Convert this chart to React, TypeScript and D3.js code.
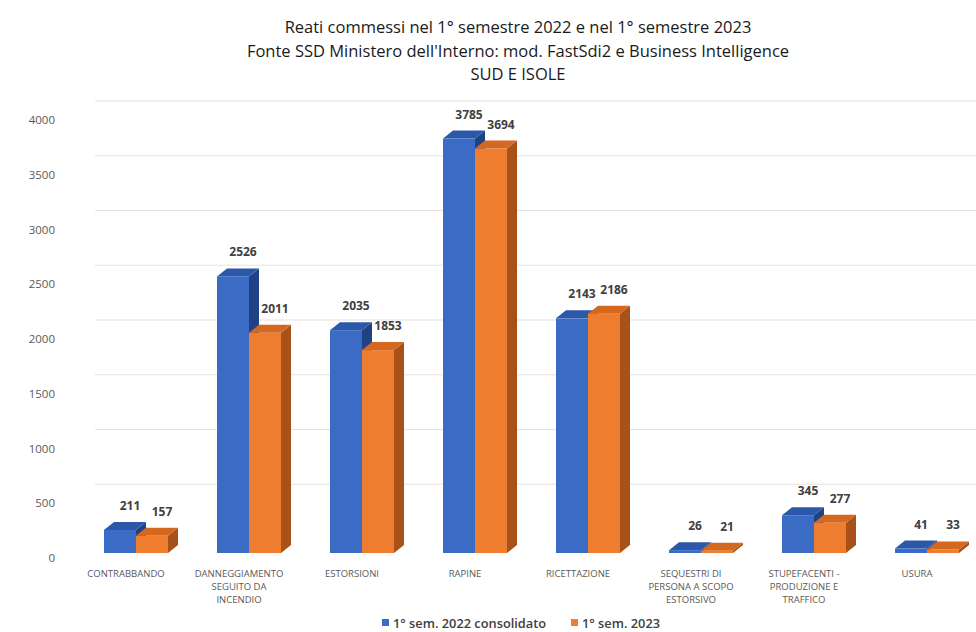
import { useRef, useEffect } from 'react';
import * as d3 from 'd3';

const titleLines = [
  'Reati commessi nel 1° semestre 2022 e nel 1° semestre 2023',
  "Fonte SSD Ministero dell'Interno: mod. FastSdi2 e Business Intelligence",
  'SUD E ISOLE',
];

const categories = [
  ['CONTRABBANDO'],
  ['DANNEGGIAMENTO', 'SEGUITO DA', 'INCENDIO'],
  ['ESTORSIONI'],
  ['RAPINE'],
  ['RICETTAZIONE'],
  ['SEQUESTRI DI', 'PERSONA A SCOPO', 'ESTORSIVO'],
  ['STUPEFACENTI -', 'PRODUZIONE E', 'TRAFFICO'],
  ['USURA'],
];

const sem2022 = [211, 2526, 2035, 3785, 2143, 26, 345, 41];
const sem2023 = [157, 2011, 1853, 3694, 2186, 21, 277, 33];

const seriesNames = ['1° sem. 2022 consolidato', '1° sem. 2023'];
const yTicks = [0, 500, 1000, 1500, 2000, 2500, 3000, 3500, 4000];

const W = 976;
const H = 632;

export default function App() {
  const svgRef = useRef<SVGSVGElement>(null);

  useEffect(() => {
    if (!svgRef.current) return;
    const svg = d3.select(svgRef.current);
    svg.selectAll('*').remove();

    const base = 553;
    const depthX = 10;
    const depthY = -8;
    const barW = 32;

    const keys = categories.map((c) => c.join(' '));
    const x = d3.scaleBand().domain(keys).range([69.5, 973.5]).padding(0);
    const y = d3.scaleLinear().domain([0, 4000]).range([base, base - 438]);

    svg.append('rect').attr('width', W).attr('height', H).attr('fill', '#ffffff');

    // Title
    svg.append('g')
      .selectAll('text')
      .data(titleLines)
      .enter()
      .append('text')
      .attr('x', 518)
      .attr('y', (_, i) => 33 + i * 23.5)
      .attr('text-anchor', 'middle')
      .style('font-family', '"Liberation Sans Narrow", "Open Sans", sans-serif')
      .style('font-size', '16.5px')
      .style('fill', '#1a1a1a')
      .text((d) => d);

    // Back wall grid lines
    svg.append('g')
      .selectAll('line')
      .data(yTicks.slice(1))
      .enter()
      .append('line')
      .attr('x1', 95)
      .attr('x2', W)
      .attr('y1', (d) => y(d) - 14)
      .attr('y2', (d) => y(d) - 14)
      .attr('stroke', '#e6e2de')
      .attr('stroke-width', 1.2);

    // Y axis labels
    svg.append('g')
      .selectAll('text')
      .data(yTicks)
      .enter()
      .append('text')
      .attr('x', 55)
      .attr('y', (d) => y(d) + 9)
      .attr('text-anchor', 'end')
      .style('font-family', '"Open Sans", sans-serif')
      .style('font-size', '11.5px')
      .style('fill', '#595959')
      .text((d) => d);

    const series = [
      { values: sem2022, front: '#3a6cc6', top: '#2b58a8', side: '#1f4284', offset: -22 },
      { values: sem2023, front: '#ef7d2f', top: '#d5681f', side: '#a8521a', offset: -22 + barW },
    ];

    const bars = svg.append('g');
    keys.forEach((k, i) => {
      const cx = (x(k) || 0) + x.bandwidth() / 2;
      series.forEach((s) => {
        const x0 = cx + s.offset;
        const yt = y(s.values[i]);
        const g = bars.append('g');
        g.append('polygon')
          .attr('points', [
            [x0 + barW, yt], [x0 + barW + depthX, yt + depthY],
            [x0 + barW + depthX, base + depthY], [x0 + barW, base],
          ].map((p) => p.join(',')).join(' '))
          .attr('fill', s.side);
        g.append('polygon')
          .attr('points', [
            [x0, yt], [x0 + depthX, yt + depthY],
            [x0 + barW + depthX, yt + depthY], [x0 + barW, yt],
          ].map((p) => p.join(',')).join(' '))
          .attr('fill', s.top);
        g.append('rect')
          .attr('x', x0)
          .attr('y', yt)
          .attr('width', barW)
          .attr('height', base - yt)
          .attr('fill', s.front);
      });
    });

    // Value labels
    const labels = svg.append('g');
    keys.forEach((k, i) => {
      const cx = (x(k) || 0) + x.bandwidth() / 2;
      series.forEach((s) => {
        labels.append('text')
          .attr('x', cx + s.offset + barW / 2 + depthX)
          .attr('y', y(s.values[i]) + depthY - 12)
          .attr('text-anchor', 'middle')
          .style('font-family', '"Open Sans", sans-serif')
          .style('font-weight', 'bold')
          .style('font-size', '12px')
          .style('fill', '#404040')
          .text(s.values[i]);
      });
    });

    // Category labels
    const cats = svg.append('g');
    keys.forEach((k, i) => {
      const cx = (x(k) || 0) + x.bandwidth() / 2;
      cats.append('text')
        .attr('text-anchor', 'middle')
        .style('font-family', '"Liberation Sans Narrow", "Open Sans", sans-serif')
        .style('font-size', '9.5px')
        .style('fill', '#595959')
        .selectAll('tspan')
        .data(categories[i])
        .enter()
        .append('tspan')
        .attr('x', cx)
        .attr('y', (_, j) => 577 + j * 13)
        .text((d) => d);
    });

    // Legend
    const legend = svg.append('g');
    const items = [
      { name: seriesNames[0], color: series[0].front, x: 382 },
      { name: seriesNames[1], color: series[1].front, x: 571 },
    ];
    items.forEach((it) => {
      legend.append('rect')
        .attr('x', it.x)
        .attr('y', 619)
        .attr('width', 7)
        .attr('height', 7)
        .attr('fill', it.color);
      legend.append('text')
        .attr('x', it.x + 11)
        .attr('y', 628)
        .style('font-family', '"Open Sans", sans-serif')
        .style('font-weight', 600)
        .style('font-size', '12.8px')
        .style('fill', '#404040')
        .text(it.name);
    });
  }, []);

  return (
    <div style={{ position: 'fixed', left: 0, top: 0 }}>
      <svg ref={svgRef} width={W} height={H} style={{ display: 'block' }} />
    </div>
  );
}
